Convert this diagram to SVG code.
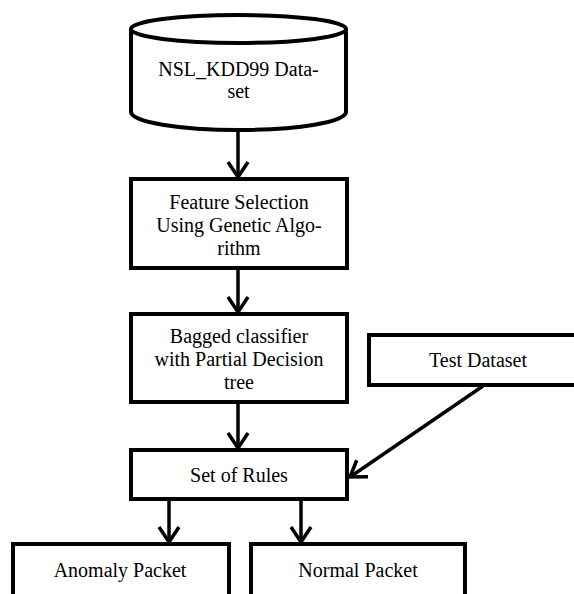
<svg xmlns="http://www.w3.org/2000/svg" width="574" height="594" viewBox="0 0 574 594">
<style>
.box{fill:#fff;stroke:#000;stroke-width:4}
.c{fill:none;stroke:#000;stroke-width:3.5}
</style>
<defs>
<marker id="ah" viewBox="-2 -2 24 24" refX="18" refY="10" markerWidth="24" markerHeight="24" markerUnits="userSpaceOnUse" orient="auto">
<path d="M3,0 L18,10 L3,20" fill="none" stroke="#000" stroke-width="3.5"/>
</marker>
</defs>
<rect width="574" height="594" fill="#fff"/>
<g font-family="Liberation Serif, serif" font-size="20" text-anchor="middle" fill="#000">
<g id="dataset">
<path class="box" d="M131,29 L131,112 A107.5 18 0 0 0 346,112 L346,29"/>
<ellipse class="box" cx="238.5" cy="29" rx="107.5" ry="14"/>
<text x="238.5" y="76">NSL_KDD99 Data-</text>
<text x="238.5" y="98">set</text>
</g>
<g id="feature">
<rect class="box" x="131" y="179" width="216" height="89"/>
<text x="239" y="209">Feature Selection</text>
<text x="239" y="232">Using Genetic Algo-</text>
<text x="239" y="255">rithm</text>
</g>
<g id="bagged">
<rect class="box" x="131" y="314" width="216" height="88"/>
<text x="239" y="343">Bagged classifier</text>
<text x="239" y="366">with Partial Decision</text>
<text x="239" y="389">tree</text>
</g>
<g id="test">
<rect class="box" x="369" y="335" width="210" height="50"/>
<text x="478" y="367">Test Dataset</text>
</g>
<g id="rules">
<rect class="box" x="131" y="450" width="216" height="49"/>
<text x="239" y="482">Set of Rules</text>
</g>
<g id="anomaly">
<rect class="box" x="13" y="544" width="216" height="56"/>
<text x="120" y="577">Anomaly Packet</text>
</g>
<g id="normal">
<rect class="box" x="251" y="544" width="214" height="56"/>
<text x="358" y="577">Normal Packet</text>
</g>
</g>
<g id="connectors">
<line class="c" x1="238" y1="131" x2="238" y2="177" marker-end="url(#ah)"/>
<line class="c" x1="238" y1="268" x2="238" y2="312" marker-end="url(#ah)"/>
<line class="c" x1="238" y1="402" x2="238" y2="448" marker-end="url(#ah)"/>
<line class="c" x1="483" y1="386" x2="350" y2="477" marker-end="url(#ah)"/>
<line class="c" x1="169" y1="499" x2="169" y2="542" marker-end="url(#ah)"/>
<line class="c" x1="301" y1="499" x2="301" y2="542" marker-end="url(#ah)"/>
</g>
</svg>
